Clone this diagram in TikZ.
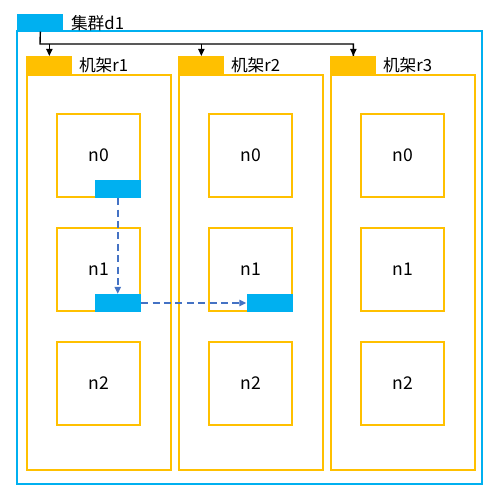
\documentclass[tikz,border=0pt]{standalone}
\usepackage{fontspec}
\setmainfont{Noto Sans CJK SC}
\usetikzlibrary{arrows.meta,positioning,calc}
\definecolor{clusterblue}{RGB}{0,176,240}
\definecolor{rackgold}{RGB}{255,192,0}
\definecolor{flowblue}{RGB}{68,114,196}

\begin{document}
\begin{tikzpicture}[x=0.02cm,y=-0.02cm,
  tabbox/.style={fill=#1,draw=none,minimum width=0.92cm,minimum height=0.35cm,
    inner sep=0pt,anchor=north west},
  rackbox/.style={draw=rackgold,line width=1.2pt,minimum width=2.88cm,
    minimum height=7.9cm,inner sep=0pt,anchor=north west},
  hostbox/.style={draw=rackgold,line width=1.2pt,minimum size=1.66cm,
    inner sep=0pt,anchor=north west,font=\fontsize{10}{12}\selectfont},
  blk/.style={fill=clusterblue,draw=none,minimum width=0.92cm,minimum height=0.35cm,
    inner sep=0pt,anchor=south east},
  lbl/.style={anchor=west,inner sep=0pt,font=\fontsize{9.5}{11}\selectfont},
  tree/.style={black,line width=0.8pt},
  treearr/.style={tree,-{Triangle[length=4pt,width=3.5pt]}},
  copy/.style={flowblue,line width=0.9pt,dash pattern=on 4pt off 2.5pt,
    -{Triangle[length=4pt,width=3.5pt]}},
]
  \fill[white] (0,0) rectangle (500,500);

  % cluster
  \draw[clusterblue,line width=1.3pt] (17,31) rectangle (482,484);
  \node[tabbox=clusterblue,minimum height=0.34cm] (ctab) at (17,14) {};
  \node[lbl,right=0.14cm of ctab.east] (clbl) {集群d1};

  % racks with hosts
  \foreach \r/\x in {1/26,2/178,3/330}{
    \node[tabbox=rackgold] (tab\r) at (\x,56) {};
    \node[lbl,right=0.12cm of tab\r.east] (tlbl\r) {机架r\r};
    \node[rackbox] (rack\r) at (\x,74) {};
    \foreach \h/\y in {0/113,1/227,2/341}
      \node[hostbox] (n\r\h) at (\x+30,\y) {n\h};
  }

  % links from cluster to racks
  \coordinate (bus) at (40,44);
  \draw[tree] (ctab.south) -- (bus) -| (tab3.north);
  \foreach \r in {1,2,3}
    \draw[treearr] (bus -| tab\r.north) -- (tab\r.north);

  % blocks
  \node[blk] (b10) at (n10.south east) {};
  \node[blk] (b11) at (n11.south east) {};
  \node[blk] (b21) at (n21.south east) {};

  \draw[copy] (b10.south) -- (b11.north);
  \draw[copy] (b11.east) -- (b21.west);
\end{tikzpicture}
\end{document}
